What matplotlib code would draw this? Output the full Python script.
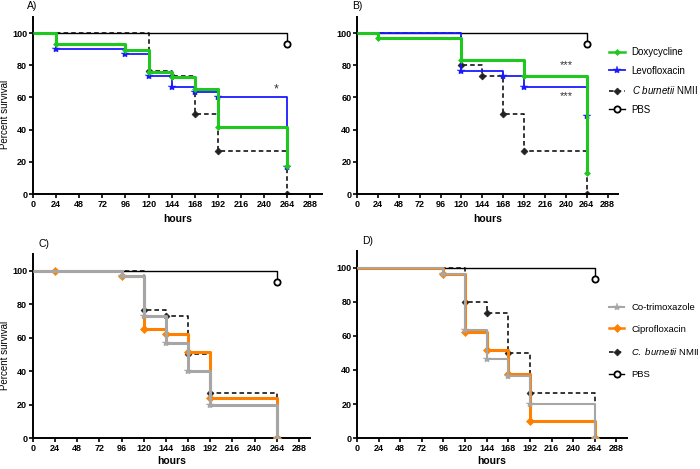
import matplotlib
matplotlib.use("Agg")
import matplotlib.pyplot as plt
from matplotlib.lines import Line2D

plt.rcParams['font.family'] = ['Liberation Sans', 'DejaVu Sans']
plt.rcParams['mathtext.fontset'] = 'custom'
plt.rcParams['mathtext.it'] = 'Liberation Sans:italic'
plt.rcParams['mathtext.rm'] = 'Liberation Sans'

# ---------------- data ----------------
xticks = [0, 24, 48, 72, 96, 120, 144, 168, 192, 216, 240, 264, 288]
yticks = [0, 20, 40, 60, 80, 100]

# Panel A
a_pbs_t = [0, 264]
a_pbs_v = [100, 93.3]
a_levo_t = [0, 24, 96, 120, 144, 168, 192, 264]
a_levo_v = [100, 90, 86.7, 73.3, 66.7, 63.3, 60, 16.7]
a_doxy_t = [0, 24, 96, 120, 144, 168, 192, 264]
a_doxy_v = [100, 93.1, 89.7, 75.9, 72.4, 65.5, 41.4, 17.2]
a_cb_t = [0, 120, 144, 168, 192, 264]
a_cb_v = [100, 76.7, 73.3, 50, 26.7, 0]

# Panel B
b_pbs_t = [0, 264]
b_pbs_v = [100, 93.3]
b_doxy_t = [0, 24, 120, 192, 264]
b_doxy_v = [100, 96.7, 83.3, 73.3, 13.3]
b_levo_t = [0, 120, 168, 192, 264]
b_levo_v = [100, 76.7, 73.3, 66.7, 48.3]
b_cb_t = [0, 120, 144, 168, 192, 264]
b_cb_v = [100, 80, 73.3, 50, 26.7, 0]

# Panel C
c_pbs_t = [0, 264]
c_pbs_v = [100, 93.3]
c_cipro_t = [0, 24, 96, 120, 144, 168, 192, 264]
c_cipro_v = [100, 100, 96.7, 65.5, 62.1, 51.7, 24.1, 0]
c_cotri_t = [0, 96, 120, 144, 168, 192, 264]
c_cotri_v = [100, 96.7, 73.3, 56.7, 40, 20, 0]
c_cb_t = [0, 120, 144, 168, 192, 264]
c_cb_v = [100, 76.7, 73.3, 50, 26.7, 0]

# Panel D
d_pbs_t = [0, 264]
d_pbs_v = [100, 93.3]
d_cotri_t = [0, 96, 120, 144, 168, 192, 264]
d_cotri_v = [100, 96.7, 63.3, 46.7, 36.7, 20, 0]
d_cipro_t = [0, 96, 120, 144, 168, 192, 264]
d_cipro_v = [100, 96.7, 62.1, 51.7, 37.9, 10.3, 0]
d_cb_t = [0, 120, 144, 168, 192, 264]
d_cb_v = [100, 80, 73.3, 50, 26.7, 0]

GREEN = '#1ec81e'
BLUE = '#1a1aff'
ORANGE = '#ff8000'
GRAY = '#a6a6a6'
BLACK = '#000000'

styles = {
    'pbs': dict(color=BLACK, lw=1.0, ls='-', marker='o', ms=4.5, mfc='white', mec=BLACK, mew=1.3),
    'cb': dict(color=BLACK, lw=1.1, ls=(0, (3, 2)), marker='D', ms=3.5, mfc='#222222', mec='#222222', mew=0.5),
    'doxy': dict(color=GREEN, lw=2.2, ls='-', marker='D', ms=3, mfc=GREEN, mec=GREEN, mew=0.5),
    'levo': dict(color=BLUE, lw=1.3, ls='-', marker='*', ms=6, mfc=BLUE, mec=BLUE, mew=0.3),
    'cipro': dict(color=ORANGE, lw=2.2, ls='-', marker='D', ms=4, mfc=ORANGE, mec=ORANGE, mew=0.5),
    'cotri_c': dict(color=GRAY, lw=2.2, ls='-', marker='*', ms=6, mfc=GRAY, mec=GRAY, mew=0.3),
    'cotri_d': dict(color=GRAY, lw=1.5, ls='-', marker='*', ms=6, mfc=GRAY, mec=GRAY, mew=0.3),
}


def km(ax, t, v, st, zorder=2):
    s = dict(st)
    marker = s.pop('marker'); ms = s.pop('ms'); mfc = s.pop('mfc'); mec = s.pop('mec'); mew = s.pop('mew')
    ax.plot(t, v, drawstyle='steps-post', zorder=zorder, solid_capstyle='butt',
            **{k: s[k] for k in ('color', 'lw', 'ls')})
    ax.plot(t[1:], v[1:], ls='none', marker=marker, ms=ms, mfc=mfc, mec=mec, mew=mew, zorder=zorder + 0.5)


def style_axes(ax, ylabel=True, ylx=-0.08):
    ax.set_xlim(0, 300)
    ax.set_ylim(0, 110)
    ax.set_xticks(xticks)
    ax.set_yticks(yticks)
    for sp in ['top', 'right']:
        ax.spines[sp].set_visible(False)
    for sp in ['left', 'bottom']:
        ax.spines[sp].set_linewidth(1.4)
    ax.tick_params(axis='both', direction='out', length=2.6, width=1.2, labelsize=6.5, pad=1.5)
    for lab in ax.get_xticklabels() + ax.get_yticklabels():
        lab.set_fontweight('bold')
    ax.set_xlabel('hours', fontsize=7.5, fontweight='bold', labelpad=4)
    if ylabel:
        ax.set_ylabel('Percent survival', fontsize=7)
        ax.yaxis.set_label_coords(ylx, 0.45)


fig = plt.figure(figsize=(7, 4.69), dpi=100)

axA = fig.add_axes([0.047, 0.586, 0.413, 0.378])
axB = fig.add_axes([0.51, 0.586, 0.373, 0.378])
axC = fig.add_axes([0.047, 0.066, 0.396, 0.392])
axD = fig.add_axes([0.51, 0.066, 0.386, 0.399])

# A
km(axA, a_pbs_t, a_pbs_v, styles['pbs'])
km(axA, a_cb_t, a_cb_v, styles['cb'])
km(axA, a_levo_t, a_levo_v, styles['levo'], zorder=3)
km(axA, a_doxy_t, a_doxy_v, styles['doxy'], zorder=4)
axA.text(252, 61, '*', fontsize=9, ha='center', va='bottom', color='#333333')
style_axes(axA, ylx=-0.079)
axA.text(-0.02, 1.09, 'A)', transform=axA.transAxes, fontsize=7.5, va='top')

# B
km(axB, b_pbs_t, b_pbs_v, styles['pbs'])
km(axB, b_cb_t, b_cb_v, styles['cb'])
km(axB, b_levo_t, b_levo_v, styles['levo'], zorder=3)
km(axB, b_doxy_t, b_doxy_v, styles['doxy'], zorder=4)
axB.text(240, 77, '***', fontsize=8, ha='center', va='bottom', color='#333333')
axB.text(240, 58, '***', fontsize=8, ha='center', va='bottom', color='#333333')
style_axes(axB, ylabel=False)
axB.text(-0.02, 1.09, 'B)', transform=axB.transAxes, fontsize=7.5, va='top')

def handle(st):
    s = dict(st)
    return Line2D([], [], color=s['color'], lw=min(s['lw'], 1.8), ls=s['ls'], marker=s['marker'],
                  ms=s['ms'], mfc=s['mfc'], mec=s['mec'], mew=s['mew'])

legB = [handle(styles['doxy']), handle(styles['levo']), handle(styles['cb']), handle(styles['pbs'])]
labB = ['Doxycycline', 'Levofloxacin', r'$\mathit{C\ burnetii}$ NMII', 'PBS']
fig.legend(legB, labB, loc='upper left', bbox_to_anchor=(0.865, 0.908), frameon=False,
           fontsize=7, handlelength=1.6, handletextpad=0.7, labelspacing=0.88, borderaxespad=0)

# C
km(axC, c_pbs_t, c_pbs_v, styles['pbs'])
km(axC, c_cb_t, c_cb_v, styles['cb'])
km(axC, c_cipro_t, c_cipro_v, styles['cipro'], zorder=3)
km(axC, c_cotri_t, c_cotri_v, styles['cotri_c'], zorder=4)
style_axes(axC, ylx=-0.083)
axC.xaxis.labelpad = 2
axC.text(0.02, 1.08, 'C)', transform=axC.transAxes, fontsize=7.5, va='top')

# D
km(axD, d_pbs_t, d_pbs_v, styles['pbs'])
km(axD, d_cb_t, d_cb_v, styles['cb'])
km(axD, d_cipro_t, d_cipro_v, styles['cipro'], zorder=3)
km(axD, d_cotri_t, d_cotri_v, styles['cotri_d'], zorder=4)
style_axes(axD, ylabel=False)
axD.xaxis.labelpad = 2
axD.text(0.02, 1.08, 'D)', transform=axD.transAxes, fontsize=7.5, va='top')

legD = [handle(styles['cotri_d']), handle(styles['cipro']), handle(styles['cb']), handle(styles['pbs'])]
labD = ['Co-trimoxazole', 'Ciprofloxacin', r'$\mathit{C.\ burnetii}$ NMII', 'PBS']
fig.legend(legD, labD, loc='upper left', bbox_to_anchor=(0.865, 0.362), frameon=False,
           fontsize=6.8, handlelength=1.6, handletextpad=0.7, labelspacing=1.35, borderaxespad=0)

fig.savefig('out.png', dpi=100)
